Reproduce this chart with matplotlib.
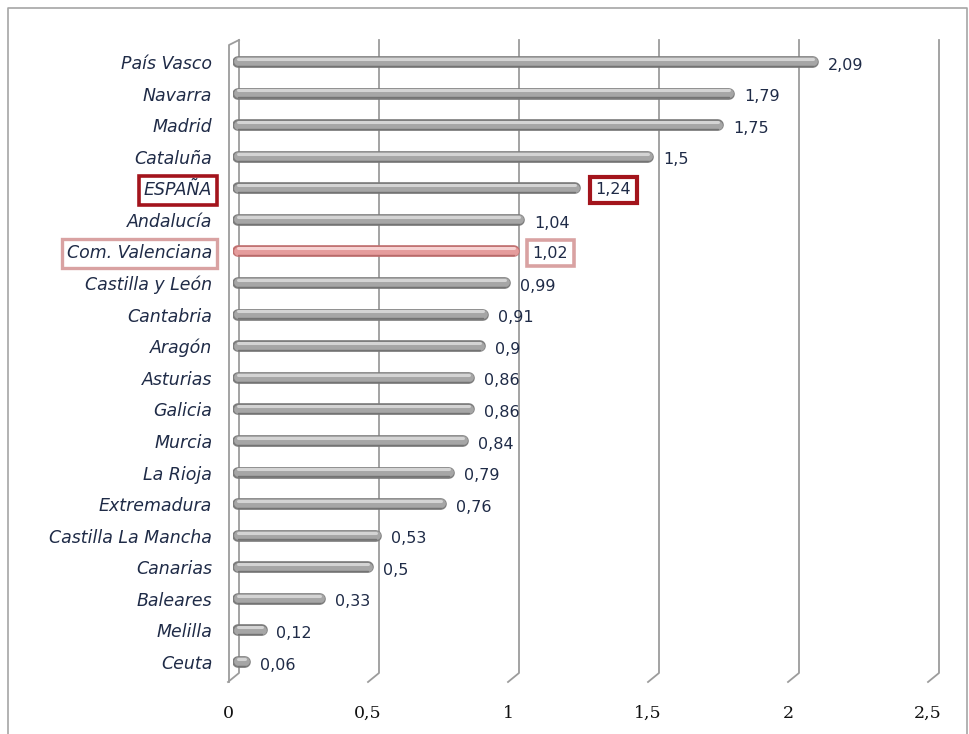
import numpy as np
import matplotlib.pyplot as plt
from matplotlib.transforms import ScaledTranslation
from matplotlib.lines import Line2D

regions = ['País Vasco', 'Navarra', 'Madrid', 'Cataluña', 'ESPAÑA', 'Andalucía',
           'Com. Valenciana', 'Castilla y León', 'Cantabria', 'Aragón', 'Asturias',
           'Galicia', 'Murcia', 'La Rioja', 'Extremadura', 'Castilla La Mancha',
           'Canarias', 'Baleares', 'Melilla', 'Ceuta']
values = [2.09, 1.79, 1.75, 1.5, 1.24, 1.04, 1.02, 0.99, 0.91, 0.9, 0.86,
          0.86, 0.84, 0.79, 0.76, 0.53, 0.5, 0.33, 0.12, 0.06]
value_labels = ['2,09', '1,79', '1,75', '1,5', '1,24', '1,04', '1,02', '0,99', '0,91', '0,9',
                '0,86', '0,86', '0,84', '0,79', '0,76', '0,53', '0,5', '0,33', '0,12', '0,06']
xticks = [0, 0.5, 1, 1.5, 2, 2.5]
xtick_labels = ['0', '0,5', '1', '1,5', '2', '2,5']
highlight = 'Com. Valenciana'
national = 'ESPAÑA'

navy = '#1f2b47'
grid_c = '#9c9c9c'
dark_red = '#a3141c'
pink = '#d9a2a2'

W, H = 970, 734
fig = plt.figure(figsize=(W / 100, H / 100), dpi=100)
# axes: x=0 at px 233, 280 px per unit; rows from y=38 to y=690
ax = fig.add_axes([233 / W, 1 - 690 / H, 700 / W, 652 / H])
row = 600 / 19.0
y_top = (38 - 62) / row
y_bot = (690 - 62) / row
ax.set_xlim(0, 2.5)
ax.set_ylim(y_bot, y_top)
for s in ax.spines.values():
    s.set_visible(False)

def py(p):
    return (p - 62) / row

back = 6 / 280
front = -5 / 280

# 3D walls / gridlines
for xv in xticks:
    ax.plot([xv + back, xv + back, xv + front], [py(40), py(673), py(682)],
            color=grid_c, lw=1.3, zorder=1, clip_on=False)
# left wall front edge
ax.plot([back, -4 / 280, -4 / 280, front + 1 / 280], [py(40), py(45), py(682), py(682)],
        color=grid_c, lw=1.3, zorder=1, clip_on=False)

ypos = np.arange(len(regions))
for i, (r, v) in enumerate(zip(regions, values)):
    if r == highlight:
        cols = ['#c07070', '#e59c9c', '#f6d2d2', '#b86a6a']
    else:
        cols = ['#7c7c7c', '#a6a6a6', '#d4d4d4', '#737373']
    end = v - 5 / 280
    x0 = 5 / 280
    ax.hlines(i, x0, end, color=cols[0], lw=8.4, capstyle='round', zorder=3)
    ax.hlines(i - 0.02, x0, end, color=cols[1], lw=6.4, capstyle='round', zorder=4)
    ax.hlines(i - 0.1, x0, end, color=cols[2], lw=2.2, capstyle='round', zorder=5)
    ax.hlines(i + 0.12, x0, end, color=cols[3], lw=1.0, capstyle='round', zorder=5)

    lab = value_labels[i]
    if r == national:
        ax.text(v + 0.055, i + 0.05, lab, ha='left', va='center', fontsize=11.5, color=navy,
                bbox=dict(boxstyle='square,pad=0.35', fc='white', ec=dark_red, lw=3))
    elif r == highlight:
        ax.text(v + 0.05, i + 0.05, lab, ha='left', va='center', fontsize=11.5, color=navy,
                bbox=dict(boxstyle='square,pad=0.35', fc='white', ec=pink, lw=2.6))
    else:
        ax.text(v + 0.035, i + 0.1, lab, ha='left', va='center', fontsize=11.5, color=navy)

ax.set_yticks(ypos)
ax.set_yticklabels(regions, fontsize=12.5, style='italic', color=navy)
ax.tick_params(axis='y', length=0, pad=15)
for t in ax.get_yticklabels():
    if t.get_text() == national:
        t.set_bbox(dict(boxstyle='square,pad=0.3', fc='white', ec=dark_red, lw=2.6))
    elif t.get_text() == highlight:
        t.set_bbox(dict(boxstyle='square,pad=0.3', fc='white', ec=pink, lw=2.4))

ax.set_xticks(xticks)
ax.set_xticklabels(xtick_labels)
ax.tick_params(axis='x', length=0, pad=11)
for t in ax.get_xticklabels():
    t.set_fontfamily('DejaVu Serif')
    t.set_fontsize(12.5)
    t.set_color('#111111')
    t.set_transform(t.get_transform() + ScaledTranslation(-5 / 100, 0, fig.dpi_scale_trans))

# outer frame
frame_c = '#a6a6a6'
fig.add_artist(Line2D([8 / W, 8 / W, 967 / W, 967 / W], [0, 1 - 8 / H, 1 - 8 / H, 0],
                      transform=fig.transFigure, color=frame_c, lw=1.2))

fig.savefig('out.png', dpi=100, facecolor='white')
